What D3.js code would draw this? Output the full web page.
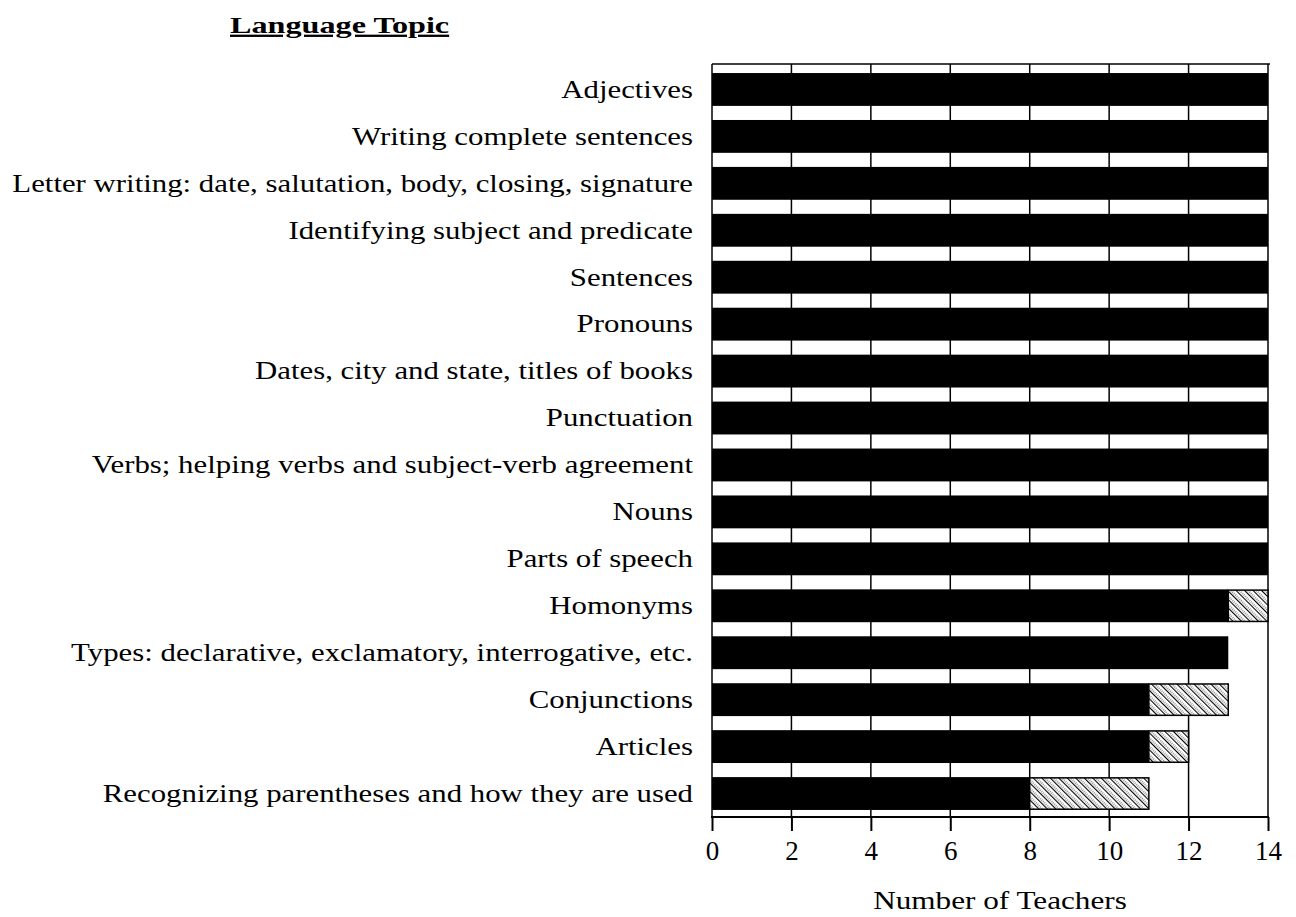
<!DOCTYPE html>
<html lang="en">
<head>
<meta charset="UTF-8">
<title>Language Topic</title>
<script src="https://cdn.jsdelivr.net/npm/d3@7"></script>
<style>
  body { margin: 0; background: #fff; }
  text { font-family: "Liberation Serif", "Times New Roman", serif; fill: #000; }
</style>
</head>
<body>
<div id="chart"></div>
<script>
var topics = ["Adjectives", "Writing complete sentences",
  "Letter writing: date, salutation, body, closing, signature",
  "Identifying subject and predicate", "Sentences", "Pronouns",
  "Dates, city and state, titles of books", "Punctuation",
  "Verbs; helping verbs and subject-verb agreement", "Nouns",
  "Parts of speech", "Homonyms",
  "Types: declarative, exclamatory, interrogative, etc.",
  "Conjunctions", "Articles", "Recognizing parentheses and how they are used"];
var solidVals = [14, 14, 14, 14, 14, 14, 14, 14, 14, 14, 14, 13, 13, 11, 11, 8];
var hatchVals = [0, 0, 0, 0, 0, 0, 0, 0, 0, 0, 0, 1, 0, 2, 1, 3];
var xTicks = [0, 2, 4, 6, 8, 10, 12, 14];

var W = 1296, H = 917;
// "top" is a read-only window global, so use other names
var pLeft = 712, pRight = 1268, pTop = 64, pBottom = 817;

var svg = d3.select("#chart").append("svg")
  .attr("width", W).attr("height", H);

// hatch pattern: thick "\" lines with thin dotted ones between
var defs = svg.append("defs");
var pat = defs.append("pattern")
  .attr("id", "hatch")
  .attr("patternUnits", "userSpaceOnUse")
  .attr("width", 6).attr("height", 6)
  .attr("patternTransform", "rotate(-45)");
pat.append("rect").attr("width", 6).attr("height", 6).attr("fill", "#fff");
pat.append("line").attr("x1", 0).attr("y1", 0).attr("x2", 0).attr("y2", 6)
  .attr("stroke", "#000").attr("stroke-width", 2.2);
pat.append("line").attr("x1", 3).attr("y1", 0).attr("x2", 3).attr("y2", 6)
  .attr("stroke", "#000").attr("stroke-width", 0.8).attr("stroke-dasharray", "1,1");

var x = d3.scaleLinear().domain([0, 14]).range([pLeft, pRight]);
var y = d3.scaleBand().domain(topics).range([pTop + 2, pBottom])
  .paddingInner(0.3).paddingOuter(0.15);

// vertical grid
svg.append("g").selectAll("line")
  .data(xTicks.slice(1, -1))
  .enter().append("line")
  .attr("x1", function (d) { return x(d); }).attr("x2", function (d) { return x(d); })
  .attr("y1", pTop).attr("y2", pBottom)
  .attr("stroke", "#000").attr("stroke-width", 1.5);

// frame
svg.append("line").attr("x1", pLeft).attr("x2", pRight + 2).attr("y1", pTop).attr("y2", pTop)
  .attr("stroke", "#000").attr("stroke-width", 1.5);
svg.append("line").attr("x1", pLeft).attr("x2", pLeft).attr("y1", pTop).attr("y2", pBottom)
  .attr("stroke", "#000").attr("stroke-width", 1.5);
svg.append("line").attr("x1", pRight).attr("x2", pRight).attr("y1", pTop).attr("y2", pBottom)
  .attr("stroke", "#000").attr("stroke-width", 1.5);

var rows = svg.append("g").selectAll("g")
  .data(topics).enter().append("g");

rows.append("rect")
  .attr("x", x(0))
  .attr("y", function (d) { return y(d); })
  .attr("height", y.bandwidth())
  .attr("width", function (d, i) { return x(solidVals[i]) - x(0); })
  .attr("fill", "#000");

rows.filter(function (d, i) { return hatchVals[i] > 0; })
  .append("rect")
  .attr("x", function (d) { return x(solidVals[topics.indexOf(d)]); })
  .attr("y", function (d) { return y(d) + 0.75; })
  .attr("height", y.bandwidth() - 1.5)
  .attr("width", function (d) { var i = topics.indexOf(d); return x(hatchVals[i]) - x(0); })
  .attr("fill", "url(#hatch)")
  .attr("stroke", "#000").attr("stroke-width", 1.5);

// category labels (the scanned type is a little wider than Liberation Serif)
svg.append("g")
  .attr("transform", "translate(" + (pLeft - 19) + ",0) scale(1.185,1)")
  .call(d3.axisLeft(y).tickSize(0).tickPadding(0))
  .call(function (g) {
    g.select(".domain").remove();
    g.selectAll("text").style("font-size", "26px")
      .style("font-family", "'Liberation Serif', serif").attr("fill", "#000");
  });

// x axis
svg.append("g")
  .attr("transform", "translate(0," + pBottom + ")")
  .call(d3.axisBottom(x).tickValues(xTicks).tickSize(14).tickPadding(10))
  .call(function (g) {
    g.select(".domain").remove();
    g.selectAll(".tick line").attr("stroke", "#000").attr("stroke-width", 2);
    g.selectAll("text").style("font-size", "27px")
      .style("font-family", "'Liberation Serif', serif").attr("fill", "#000");
  });
svg.append("line").attr("x1", pLeft - 1).attr("x2", pRight + 1)
  .attr("y1", pBottom).attr("y2", pBottom)
  .attr("stroke", "#000").attr("stroke-width", 2);

svg.append("text")
  .attr("transform", "translate(1000,909) scale(1.2,1)")
  .attr("text-anchor", "middle")
  .style("font-size", "26px")
  .text("Number of Teachers");

svg.append("text")
  .attr("transform", "translate(230,33) scale(1.4,1)")
  .style("font-size", "23px").style("font-weight", "bold")
  .style("text-decoration", "underline")
  .text("Language Topic");
</script>
</body>
</html>
